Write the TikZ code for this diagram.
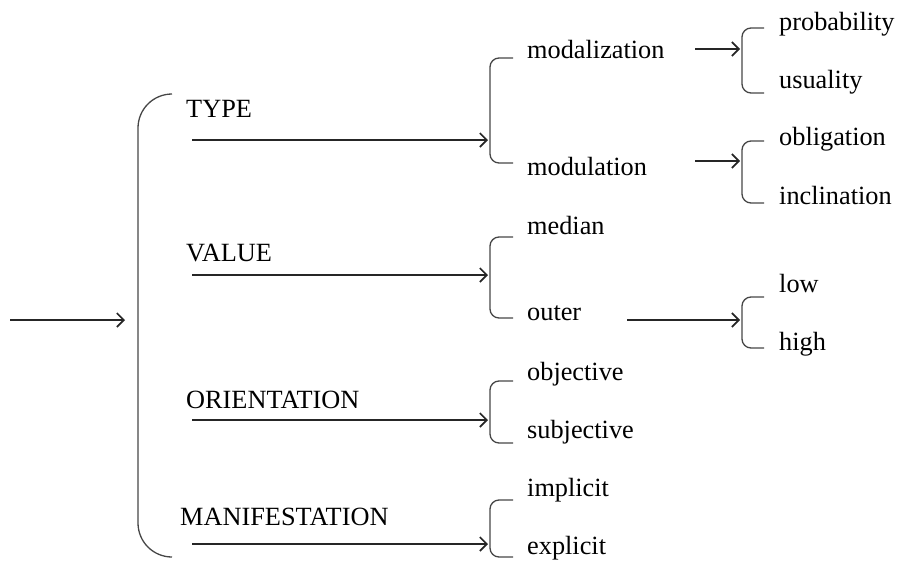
\documentclass[tikz,border=0pt]{standalone}
\usepackage{fontspec}
\setmainfont{Liberation Serif}
\usepackage{tikz}
\usetikzlibrary{positioning,arrows.meta,calc}
\definecolor{brackcol}{RGB}{70,70,70}
\tikzset{
  catlabel/.style={anchor=base west, inner sep=0pt, font=\fontsize{26.3}{30}\selectfont},
  optlabel/.style={anchor=base west, inner sep=0pt, font=\fontsize{26.3}{30}\selectfont},
  arr/.style={-{Straight Barb[length=7pt,width=14pt]}, line width=1.6pt, black!85},
  brack/.style={draw=brackcol, line width=1.3pt, rounded corners=9pt},
  bigbrack/.style={draw=brackcol, line width=1.3pt, rounded corners=34pt}
}
\begin{document}
\begin{tikzpicture}[x=1pt,y=-1pt]
  \useasboundingbox (0,0) rectangle (898,563);

  % Entry arrow and main bracket
  \coordinate (entry) at (10,320);
  \coordinate (main) at (125,320);
  \draw[arr] (entry) -- (main);
  \draw[bigbrack] (172,94) -- (138,94) -- (138,557) -- (172,557);

  % Main categories
  \node[catlabel] (type)  at (186,117) {TYPE};
  \node[catlabel] (value) at (186,261) {VALUE};
  \node[catlabel] (orient) at (186,408) {ORIENTATION};
  \node[catlabel] (manif) at (180,525) {MANIFESTATION};

  % Arrows from categories (start under label, end at bracket)
  \coordinate (typeS)   at (192,140);  \coordinate (typeE)   at (488,140);
  \coordinate (valueS)  at (192,275);  \coordinate (valueE)  at (488,275);
  \coordinate (orientS) at (192,420);  \coordinate (orientE) at (488,420);
  \coordinate (manifS)  at (192,544);  \coordinate (manifE)  at (488,544);
  \draw[arr] (typeS) -- (typeE);
  \draw[arr] (valueS) -- (valueE);
  \draw[arr] (orientS) -- (orientE);
  \draw[arr] (manifS) -- (manifE);

  % Second-level brackets
  \draw[brack] (513,58) -- (490,58) -- (490,163) -- (513,163);
  \draw[brack] (513,237) -- (490,237) -- (490,318) -- (513,318);
  \draw[brack] (513,381) -- (490,381) -- (490,443) -- (513,443);
  \draw[brack] (513,500) -- (490,500) -- (490,557) -- (513,557);

  % Second-level options
  \node[optlabel] (modaliz) at (527,58)  {modalization};
  \node[optlabel] (modul)   at (527,175) {modulation};
  \node[optlabel] (median)  at (527,234) {median};
  \node[optlabel] (outer)   at (527,320) {outer};
  \node[optlabel] (objec)   at (527,380) {objective};
  \node[optlabel] (subjec)  at (527,438) {subjective};
  \node[optlabel] (implic)  at (527,496) {implicit};
  \node[optlabel] (explic)  at (527,554) {explicit};

  % Third-level arrows
  \coordinate (modalizS) at (695,49);  \coordinate (modalizE) at (740,49);
  \coordinate (modulS)   at (695,161); \coordinate (modulE)   at (740,161);
  \coordinate (outerS)   at (627,320); \coordinate (outerE)   at (740,320);
  \draw[arr] (modalizS) -- (modalizE);
  \draw[arr] (modulS) -- (modulE);
  \draw[arr] (outerS) -- (outerE);

  % Third-level brackets
  \draw[brack] (764,28) -- (742,28) -- (742,93) -- (764,93);
  \draw[brack] (764,141) -- (742,141) -- (742,203) -- (764,203);
  \draw[brack] (764,297) -- (742,297) -- (742,348) -- (764,348);

  % Third-level options
  \node[optlabel] (probab)  at (779,30)  {probability};
  \node[optlabel] (usual)   at (779,88)  {usuality};
  \node[optlabel] (oblig)   at (779,145) {obligation};
  \node[optlabel] (inclin)  at (779,204) {inclination};
  \node[optlabel] (low)     at (779,292) {low};
  \node[optlabel] (high)    at (779,350) {high};
\end{tikzpicture}
\end{document}
